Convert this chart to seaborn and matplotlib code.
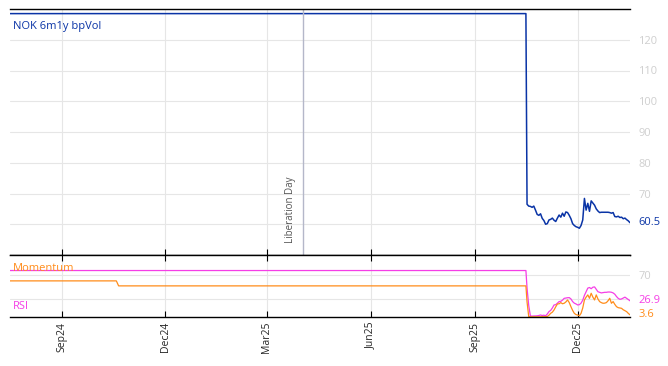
import numpy as np
import pandas as pd
import matplotlib
matplotlib.use("Agg")
import matplotlib.pyplot as plt
import matplotlib.dates as mdates
import seaborn as sns

# ---------------- data ----------------
# flat (pre-drop) sections
vol_pre_dates = ["2024-07-17", "2025-10-16"]
vol_pre_values = [128.5, 128.5]

rsi_pre_dates = ["2024-07-17", "2025-10-16"]
rsi_pre_values = [77.2, 77.2]

mom_pre_dates = ["2024-07-17", "2024-10-19", "2024-10-21", "2025-10-16"]
mom_pre_values = [60.0, 60.0, 51.7, 51.7]

# post-drop sections, sampled from 2025-10-17 to 2026-01-16
post_start, post_end = "2025-10-17", "2026-01-16"
vol_post = [66.5, 65.9, 65.8, 65.5, 65.9, 64.6, 63.2, 62.9, 63.4, 61.9,
            61.2, 60.0, 60.2, 61.4, 61.6, 62.0, 61.3, 60.9, 62.0, 63.0,
            62.3, 63.6, 62.6, 64.0, 63.8, 62.9, 61.8, 60.2, 59.6, 59.2,
            59.0, 58.7, 59.6, 61.4, 68.4, 64.6, 66.8, 64.2, 67.6, 66.9,
            66.2, 65.0, 64.3, 63.8, 63.9, 63.9, 63.9, 63.9, 63.9, 63.8,
            63.6, 63.8, 62.5, 62.4, 62.6, 62.2, 62.3, 61.8, 62.0, 61.5,
            61.1, 60.5]
rsi_post = [48, 19, 1.7, 1.5, 1.7, 1.8, 2.0, 2.5, 3.3, 2.5,
            3.0, 2.0, 5.0, 9.0, 11, 15, 20, 20.5, 23, 25.6,
            26, 28, 31, 31.5, 32, 32.2, 30, 25.6, 23, 21.7,
            20, 20.5, 23, 28, 36, 42, 48, 49, 47, 49.5,
            50, 46, 42, 41, 40, 40.5, 41, 41, 41.5, 41.5,
            41.1, 40, 37.8, 34, 31, 29.4, 30, 31.5, 33, 31,
            29, 26.9]
mom_post = [25, 0.5, 0.3, 0.3, 0.3, 0.3, 0.3, 0.3, 0.3, 0.5,
            0.5, 0.5, 0.8, 3.0, 6.1, 8, 11.7, 17, 21.7, 22,
            23.9, 22, 22.8, 25, 28.3, 24, 17.2, 11, 6.1, 4,
            3.3, 2, 6.1, 15, 28.3, 33, 36.7, 31.1, 39.4, 33,
            28.3, 36.7, 30, 25.6, 23.9, 22.8, 23, 23.9, 27, 31.1,
            22.8, 25.6, 21, 17.2, 15.5, 15, 14.4, 12, 10.5, 8.9,
            6, 3.6]

event_date = "2025-04-02"
event_label = "Liberation Day"
title = "NOK 6m1y bpVol"
x_ticks = ["2024-09-01", "2024-12-01", "2025-03-01", "2025-06-01", "2025-09-01", "2025-12-01"]
x_start, x_end = "2024-07-17", "2026-01-16"

# ---------------- frames ----------------
post_dates = pd.date_range(post_start, post_end, periods=len(vol_post))
vol_df = pd.DataFrame({
    "date": list(pd.to_datetime(vol_pre_dates)) + list(post_dates),
    "value": vol_pre_values + vol_post})
rsi_df = pd.DataFrame({
    "date": list(pd.to_datetime(rsi_pre_dates)) + list(post_dates),
    "value": rsi_pre_values + rsi_post})
mom_df = pd.DataFrame({
    "date": list(pd.to_datetime(mom_pre_dates)) + list(post_dates),
    "value": mom_pre_values + mom_post})

# ---------------- style ----------------
sns.set_style("white")
plt.rcParams["font.family"] = ["Open Sans", "DejaVu Sans"]

BLUE = "#0a34a6"
MAG = "#f53ee6"
ORG = "#ff8c1a"
GRID = "#e6e6e6"
TICKC = "#cfcfcf"

fig = plt.figure(figsize=(6.68, 3.66), dpi=100)
gs = fig.add_gridspec(2, 1, height_ratios=[246, 62], hspace=0,
                      left=10 / 668, right=630 / 668,
                      top=1 - 9 / 366, bottom=1 - 317 / 366)
ax1 = fig.add_subplot(gs[0])
ax2 = fig.add_subplot(gs[1], sharex=ax1)

sns.lineplot(data=vol_df, x="date", y="value", ax=ax1, color=BLUE, lw=1.1)
sns.lineplot(data=rsi_df, x="date", y="value", ax=ax2, color=MAG, lw=0.9)
sns.lineplot(data=mom_df, x="date", y="value", ax=ax2, color=ORG, lw=0.9)

xt = pd.to_datetime(x_ticks)
for ax in (ax1, ax2):
    ax.set_xlabel("")
    ax.set_ylabel("")
    ax.set_xticks(xt)
    ax.grid(True, color=GRID, lw=0.8)
    ax.set_axisbelow(True)
    for s in ("left", "right"):
        ax.spines[s].set_visible(False)
    for s in ("top", "bottom"):
        ax.spines[s].set_visible(True)
        ax.spines[s].set_color("black")
        ax.spines[s].set_linewidth(1.0)
    ax.yaxis.tick_right()
    ax.tick_params(axis="y", length=0, pad=6, labelsize=8, labelcolor=TICKC)

ax1.set_xlim(pd.Timestamp(x_start), pd.Timestamp(x_end))
ax1.set_ylim(50, 130)
ax1.set_yticks([60, 70, 80, 90, 100, 110, 120])
ax1.set_yticklabels(["", "70", "80", "90", "100", "110", "120"])
ax1.tick_params(axis="x", direction="in", length=4, bottom=True, top=False,
                labelbottom=False, color="black")

ax2.set_ylim(0, 103)
ax2.set_yticks([30, 70])
ax2.set_yticklabels(["", "70"])
ax2.tick_params(axis="x", direction="in", length=4, bottom=True, top=True,
                labelbottom=True, rotation=90, labelsize=7.5, color="black")
ax2.xaxis.set_major_formatter(mdates.DateFormatter("%b%y"))

# event line
ev = pd.Timestamp(event_date)
ax1.axvline(ev, color="#b4b7c9", lw=1.0)
ax1.text(ev - pd.Timedelta(days=11), 53.9, event_label, rotation=90,
         ha="center", va="bottom", fontsize=7, color="#555555")

# titles / labels
ax1.text(0.005, 0.95, title, transform=ax1.transAxes, color=BLUE,
         fontsize=8, ha="left", va="top")
ax2.text(0.005, 0.78, "Momentum", transform=ax2.transAxes, color=ORG,
         fontsize=8, ha="left", va="center")
ax2.text(0.005, 0.17, "RSI", transform=ax2.transAxes, color=MAG,
         fontsize=8, ha="left", va="center")

# last value labels
ax1.annotate(f"{vol_post[-1]:.1f}", xy=(1, vol_post[-1]), xycoords=("axes fraction", "data"),
             xytext=(6, 0), textcoords="offset points", color=BLUE, fontsize=8,
             ha="left", va="center")
ax2.annotate(f"{rsi_post[-1]:.1f}", xy=(1, rsi_post[-1]), xycoords=("axes fraction", "data"),
             xytext=(6, 0), textcoords="offset points", color=MAG, fontsize=8,
             ha="left", va="center")
ax2.annotate(f"{mom_post[-1]:.1f}", xy=(1, mom_post[-1]), xycoords=("axes fraction", "data"),
             xytext=(6, 0), textcoords="offset points", color=ORG, fontsize=8,
             ha="left", va="center")

fig.savefig("out.png", dpi=100)
